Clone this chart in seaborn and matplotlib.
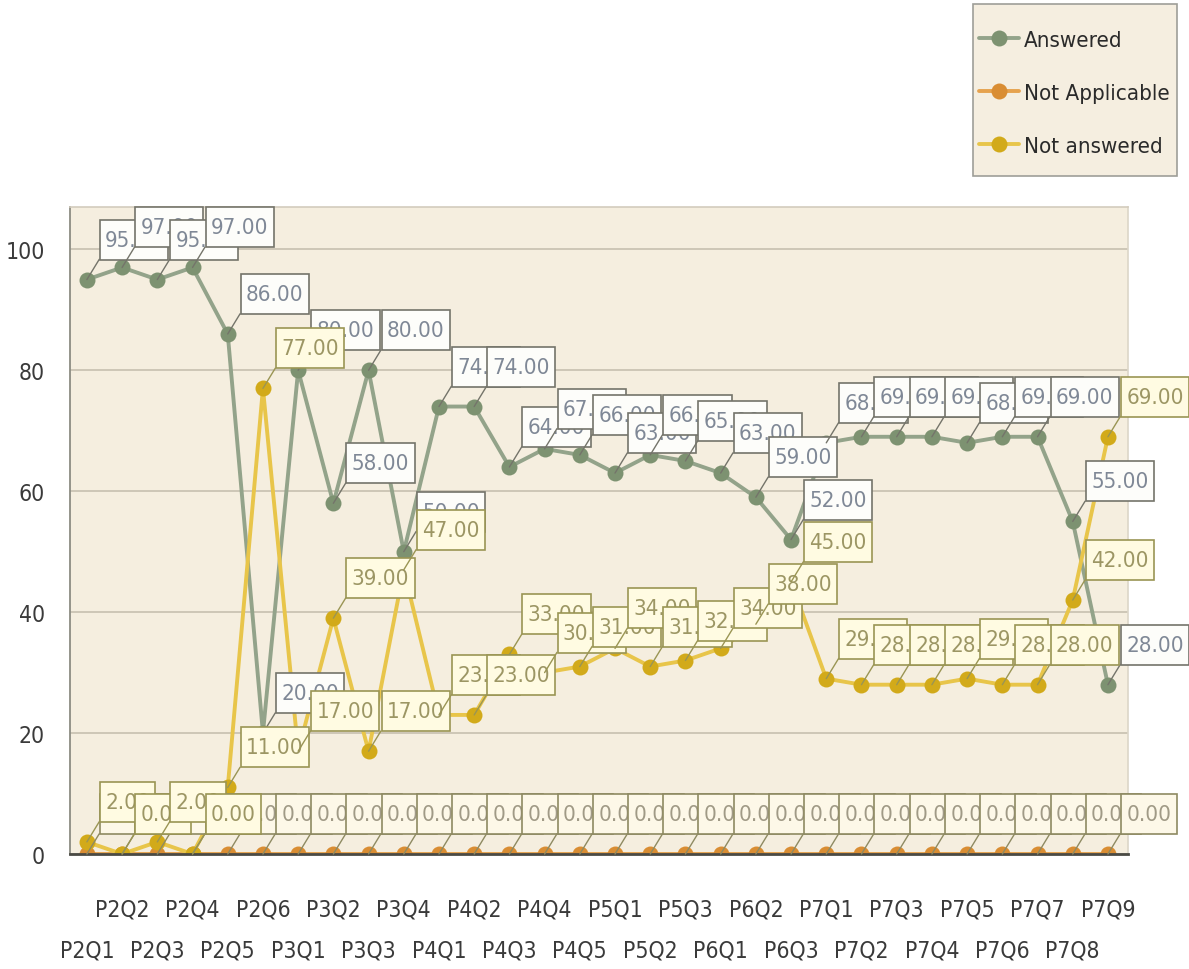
import numpy as np
import pandas as pd
import matplotlib
matplotlib.use("Agg")
import matplotlib.pyplot as plt
from matplotlib import font_manager
from matplotlib.font_manager import FontProperties
from matplotlib.lines import Line2D
from matplotlib.patches import Rectangle
from matplotlib.path import Path
import seaborn as sns

# ---------------- data ----------------
categories = ["P2Q1", "P2Q2", "P2Q3", "P2Q4", "P2Q5", "P2Q6",
              "P3Q1", "P3Q2", "P3Q3", "P3Q4",
              "P4Q1", "P4Q2", "P4Q3", "P4Q4", "P4Q5",
              "P5Q1", "P5Q2", "P5Q3",
              "P6Q1", "P6Q2", "P6Q3",
              "P7Q1", "P7Q2", "P7Q3", "P7Q4", "P7Q5", "P7Q6", "P7Q7", "P7Q8", "P7Q9"]
answered = [95, 97, 95, 97, 86, 20,
            80, 58, 80, 50,
            74, 74, 64, 67, 66,
            63, 66, 65,
            63, 59, 52,
            68, 69, 69, 69, 68, 69, 69, 55, 28]
not_applicable = [0, 0, 0, 0, 0, 0,
                  0, 0, 0, 0,
                  0, 0, 0, 0, 0,
                  0, 0, 0,
                  0, 0, 0,
                  0, 0, 0, 0, 0, 0, 0, 0, 0]
not_answered = [2, 0, 2, 0, 11, 77,
                17, 39, 17, 47,
                23, 23, 33, 30, 31,
                34, 31, 32,
                34, 38, 45,
                29, 28, 28, 28, 29, 28, 28, 42, 69]
series_names = ["Answered", "Not Applicable", "Not answered"]
y_ticks = [0, 20, 40, 60, 80, 100]

# ---------------- style ----------------
sns.set_style("white")
plt.rcParams["font.family"] = ["DejaVu Sans"]

# look for a condensed / narrow sans face (closer to the reference font)
cond = None
for f in font_manager.fontManager.ttflist:
    fn = f.fname.lower()
    if (("condensed" in fn or "narrow" in fn) and "bold" not in fn
            and "oblique" not in fn and "italic" not in fn and "light" not in fn
            and "mono" not in fn and "serif" not in fn.replace("sans", "")):
        cond = f.fname
        break
if cond is not None:
    FS = 16
    def FP(size=FS):
        return FontProperties(fname=cond, size=size)
else:
    FS = 14
    def FP(size=FS):
        return FontProperties(family="DejaVu Sans", size=size)

styles = {
    "Answered": dict(line="#93a38a", marker="#7d9271", text="#7f8896",
                     box_fc="#fdfdfa", box_ec="#74746a"),
    "Not Applicable": dict(line="#e6a24e", marker="#d98d33", text="#a09a86",
                           box_fc="#fdf8e8", box_ec="#8e8a62"),
    "Not answered": dict(line="#e8c54a", marker="#d2aa1a", text="#9c9664",
                         box_fc="#fffbe2", box_ec="#9a9554"),
}
values = {"Answered": answered, "Not Applicable": not_applicable,
          "Not answered": not_answered}

df = pd.DataFrame({"idx": np.arange(len(categories)), "cat": categories,
                   "Answered": answered, "Not Applicable": not_applicable,
                   "Not answered": not_answered})

W, H = 1189, 970
fig = plt.figure(figsize=(W / 100, H / 100), dpi=100)
fig.patch.set_facecolor("white")
ax = fig.add_axes([70 / W, 115 / H, 1058 / W, 647 / H])
ax.set_facecolor("#f5eedf")

MS = 11.5
LW = 2.8
for name in series_names:
    st = styles[name]
    sns.lineplot(data=df, x="idx", y=name, ax=ax, color=st["line"],
                 linewidth=LW, marker="o", markersize=MS,
                 markerfacecolor=st["marker"], markeredgecolor=st["marker"],
                 markeredgewidth=0, label=name, zorder=2)

ax.set_xlim(-0.48, 29.57)
ax.set_ylim(0, 107)

# grid
ax.set_yticks(y_ticks)
ax.set_yticklabels([str(v) for v in y_ticks])
ax.grid(axis="y", color="#cdc6b6", linewidth=1.4)
ax.grid(axis="x", visible=False)
ax.set_axisbelow(True)

# x ticks staggered on two rows
idx = np.arange(len(categories))
ax.set_xticks(idx[0::2])
ax.set_xticklabels(categories[0::2])
ax.set_xticks(idx[1::2], minor=True)
ax.set_xticklabels(categories[1::2], minor=True)
ax.tick_params(axis="x", which="major", length=9, width=1, color="#999999",
               pad=52, labelcolor="#3a3a3a")
ax.tick_params(axis="x", which="minor", length=9, width=1, color="#999999",
               pad=22, labelcolor="#3a3a3a")
ax.tick_params(axis="y", length=9, width=1, color="#999999", pad=9,
               labelcolor="#3a3a3a")
for lab in ax.get_xticklabels(which="both") + ax.get_yticklabels():
    lab.set_fontproperties(FP(FS + 0.5))
ax.set_xlabel("")
ax.set_ylabel("")

for side, col, lw in [("left", "#8c8c82", 1.3), ("top", "#d3ccbd", 1.2),
                      ("right", "#dcd6c8", 1.2), ("bottom", "#4a4a44", 2.0)]:
    ax.spines[side].set_visible(True)
    ax.spines[side].set_color(col)
    ax.spines[side].set_linewidth(lw)

# tall label box (horizontal padding small, vertical padding large)
FS_PX = FS * 100 / 72
PXF = 0.24
PYF = max(0.15, (46 - 1.17 * FS_PX) / (2 * FS_PX))


def tallbox(x0, y0, width, height, mutation_size):
    px = PXF * mutation_size
    py = PYF * mutation_size
    x1, y1 = x0 + width + px, y0 + height + py
    x0, y0 = x0 - px, y0 - py
    return Path([(x0, y0), (x1, y0), (x1, y1), (x0, y1), (x0, y0)],
                [Path.MOVETO, Path.LINETO, Path.LINETO, Path.LINETO,
                 Path.CLOSEPOLY])


off_x = 13 + PXF * FS_PX
off_y = 20 + PYF * FS_PX

# data labels
for name in series_names:
    st = styles[name]
    for i, v in enumerate(values[name]):
        ax.annotate(f"{v:.2f}", xy=(i, v), xycoords="data",
                    xytext=(off_x, off_y), textcoords="offset pixels",
                    ha="left", va="bottom", fontproperties=FP(FS),
                    color=st["text"], annotation_clip=False, zorder=5,
                    bbox=dict(boxstyle=tallbox, fc=st["box_fc"],
                              ec=st["box_ec"], lw=1.2),
                    arrowprops=dict(arrowstyle="-", color=st["box_ec"], lw=1,
                                    relpos=(0, 0), shrinkA=0, shrinkB=0))

# legend (frame drawn as a separate rectangle for exact padding)
if ax.get_legend() is not None:
    ax.get_legend().remove()
fig.patches.append(Rectangle((973 / W, 1 - 177 / H), 204 / W, 172 / H,
                             transform=fig.transFigure, fc="#f5eee0",
                             ec="#9e9e98", lw=1.2, zorder=1))
handles = [Line2D([0], [0], color=styles[n]["line"], lw=LW, marker="o",
                  markersize=MS, markerfacecolor=styles[n]["marker"],
                  markeredgewidth=0) for n in series_names]
LFS = FS
LFS_PX = LFS * 100 / 72
leg = fig.legend(handles, series_names, loc="upper left",
                 bbox_to_anchor=(979 / W, 1 - (44 - 0.6 * LFS_PX) / H),
                 frameon=False, prop=FP(LFS),
                 handlelength=40 / LFS_PX, handletextpad=5 / LFS_PX,
                 labelspacing=(53 - 1.17 * LFS_PX) / LFS_PX + 0.27,
                 borderpad=0, borderaxespad=0)
for t in leg.get_texts():
    t.set_color("#2a2a2a")

fig.savefig("out.png", dpi=100, facecolor="white")
